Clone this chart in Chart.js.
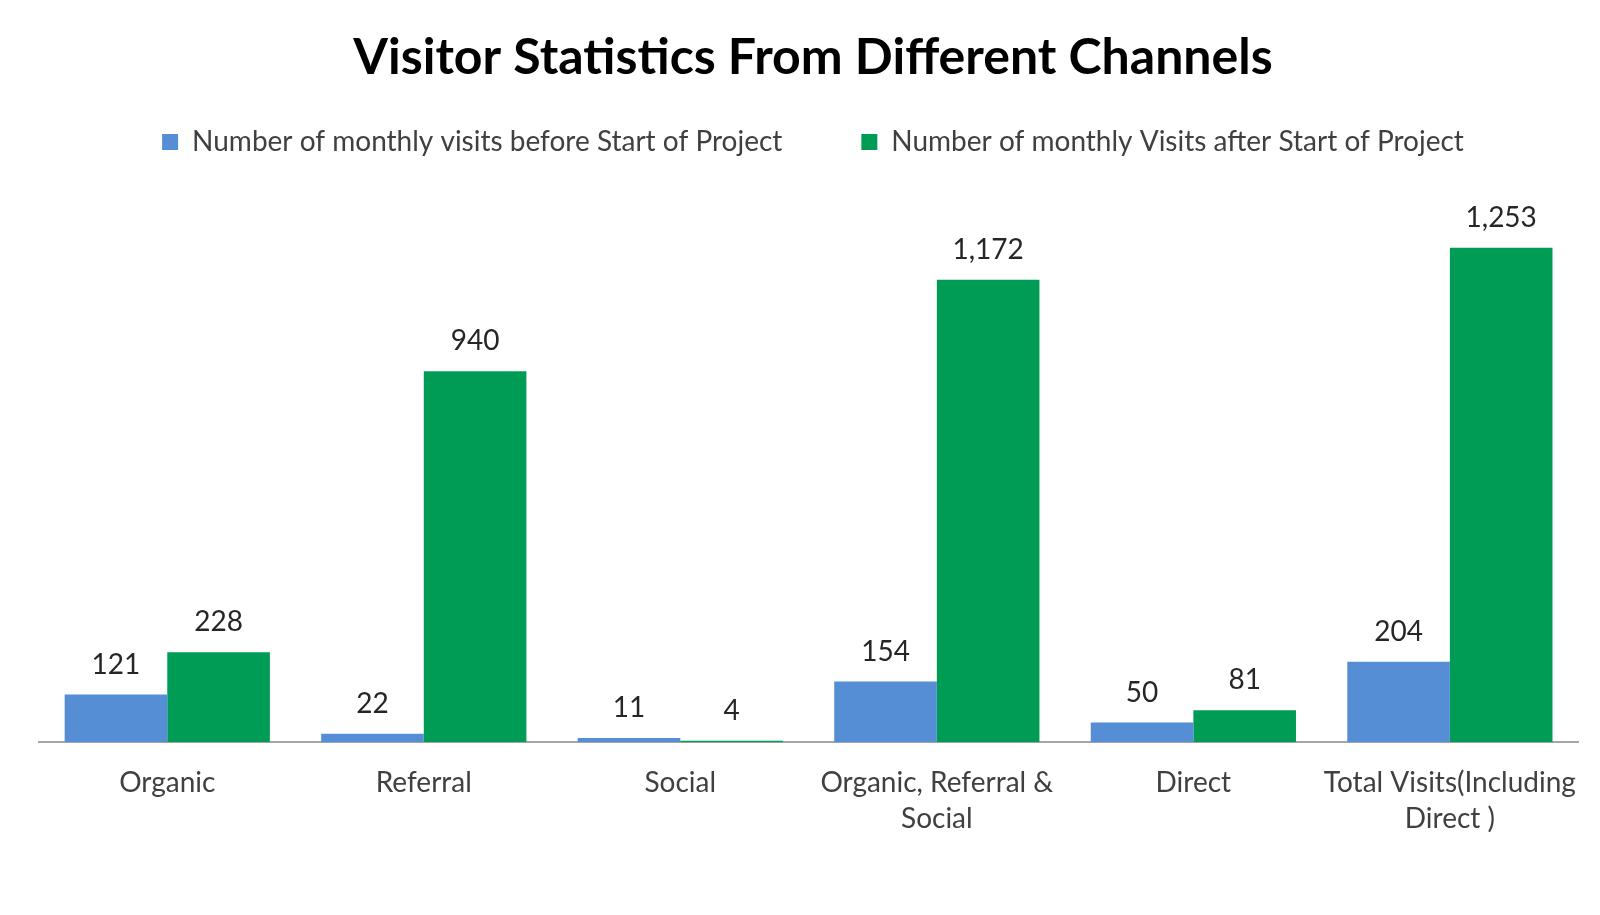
<!DOCTYPE html>
<html lang="en">
<head>
    <meta charset="UTF-8">
    <title>Visitor Statistics</title>
    <script src="https://cdn.jsdelivr.net/npm/chart.js"></script>
    <style>
        html, body { margin: 0; padding: 0; background: #fff; }
        #wrap { width: 1600px; height: 915px; }
    </style>
</head>
<body>
<div id="wrap"><canvas id="myChart"></canvas></div>

<script>
    const categories = ['Organic', 'Referral', 'Social', ['Organic, Referral &', 'Social'], 'Direct', ['Total Visits(Including', 'Direct )']];
    const visitsBefore = [121, 22, 11, 154, 50, 204];
    const visitsAfter = [228, 940, 4, 1172, 81, 1253];
    const seriesNames = ['Number of monthly visits before Start of Project', 'Number of monthly Visits after Start of Project'];

    const FONT = 'Lato, "Open Sans", sans-serif';

    // draws the value above each bar (no datalabels plugin here)
    const valueLabels = {
        id: 'valueLabels',
        afterDatasetsDraw(chart) {
            const ctx = chart.ctx;
            ctx.save();
            ctx.font = '28px ' + FONT;
            ctx.fillStyle = '#262626';
            ctx.textAlign = 'center';
            ctx.textBaseline = 'middle';
            chart.data.datasets.forEach(function (ds, i) {
                chart.getDatasetMeta(i).data.forEach(function (bar, j) {
                    ctx.fillText(ds.data[j].toLocaleString('en-US'), bar.x, bar.y - 30);
                });
            });
            ctx.restore();
        }
    };

    const ctx = document.getElementById('myChart').getContext('2d');
    const myChart = new Chart(ctx, {
        type: 'bar',
        data: {
            labels: categories,
            datasets: [{
                label: seriesNames[0],
                data: visitsBefore,
                backgroundColor: 'rgb(85, 142, 213)'
            }, {
                label: seriesNames[1],
                data: visitsAfter,
                backgroundColor: 'rgb(0, 156, 85)'
            }]
        },
        options: {
            responsive: true,
            maintainAspectRatio: false,
            animation: false,
            layout: { padding: { left: 39, right: 13, top: 0, bottom: 55 } },
            datasets: { bar: { categoryPercentage: 0.8, barPercentage: 1.0 } },
            plugins: {
                title: {
                    display: true,
                    text: 'Visitor Statistics From Different Channels',
                    color: '#000',
                    font: { family: FONT, size: 50, weight: 'bold' },
                    padding: { top: 28, bottom: -39 }
                },
                legend: {
                    labels: {
                        color: '#404040',
                        font: { family: FONT, size: 28 },
                        boxWidth: 16,
                        boxHeight: 16,
                        padding: 79
                    }
                },
                tooltip: { enabled: false }
            },
            scales: {
                x: {
                    grid: { display: false, drawTicks: false },
                    border: { display: true, color: '#a6a6a6', width: 2 },
                    ticks: {
                        color: '#404040',
                        font: { family: FONT, size: 28, lineHeight: 1.28 },
                        padding: 23,
                        maxRotation: 0,
                        minRotation: 0,
                        autoSkip: false
                    }
                },
                y: {
                    display: false,
                    min: 0,
                    max: 1460
                }
            }
        },
        plugins: [valueLabels]
    });
</script>
</body>
</html>
